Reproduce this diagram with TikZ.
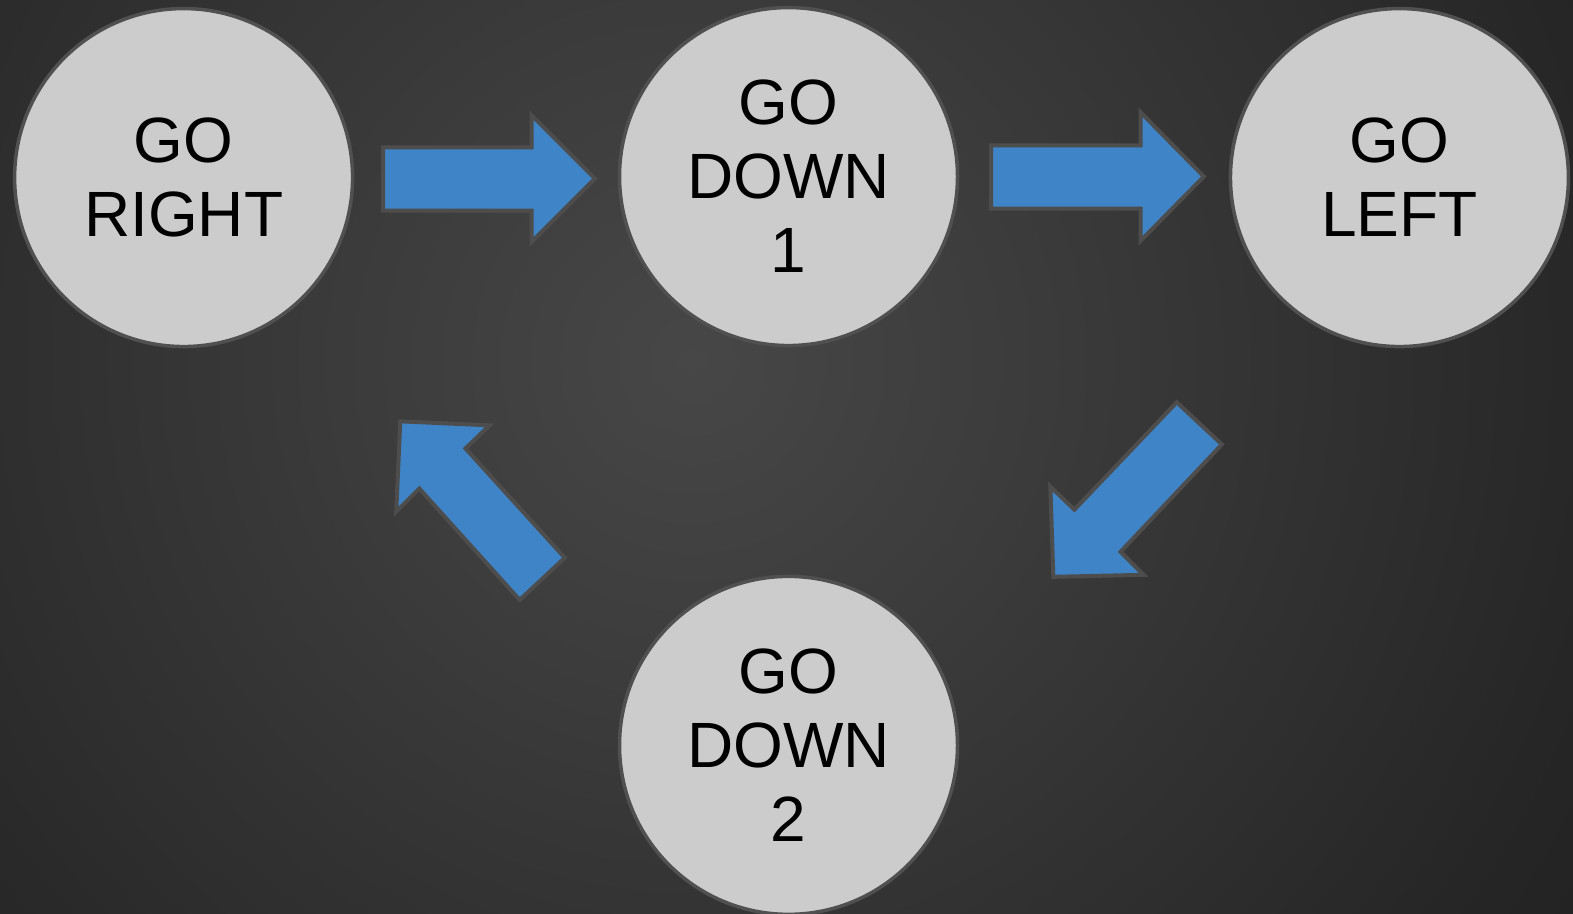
\documentclass[tikz,border=0pt]{standalone}
\usepackage{fontspec}
\setmainfont{Liberation Sans}
\definecolor{bg0}{HTML}{474747}
\definecolor{bg1}{HTML}{3B3B3B}
\definecolor{bg2}{HTML}{262626}
\definecolor{bg3}{HTML}{1E1E1E}
\definecolor{bg4}{HTML}{131313}
\definecolor{circfill}{HTML}{CCCCCC}
\definecolor{circline}{HTML}{505050}
\definecolor{arrowblue}{HTML}{3E84C6}
\definecolor{arrowline}{HTML}{4D4D4D}
\pgfdeclareradialshading{bgshade}{\pgfpoint{0bp}{0bp}}{color(0bp)=(bg0); color(8bp)=(bg1); color(21bp)=(bg2); color(28bp)=(bg3); color(42bp)=(bg4); color(50bp)=(bg4)}
\begin{document}
\begin{tikzpicture}[x=1.0032pt,y=-1.0032pt,
  state/.style={circle, draw=circline, line width=3.5pt, fill=circfill, minimum size=338pt, inner sep=0pt, align=center, font=\fontsize{64}{74}\selectfont, text=black},
  blockarrow/.style={draw=arrowline, line width=4pt, fill=arrowblue, line join=miter}]
\useasboundingbox (0,0) rectangle (1568,911);
\begin{scope}
\clip (0,0) rectangle (1568,911);
\shade[shading=bgshade] (690,360) circle[radius=1100];
\end{scope}
\node[state] (right) at (183,177) {GO\\RIGHT};
\node[state] (down1) at (786,176) {GO\\DOWN\\1};
\node[state] (left) at (1395,177) {GO\\LEFT};
\node[state] (down2) at (786,743) {GO\\DOWN\\2};
% right -> down1
\draw[blockarrow] (382,147) -- (530,147) -- (530,115) -- (593,178) -- (530,241) -- (530,210) -- (382,210) -- cycle;
% down1 -> left
\draw[blockarrow] (988,145) -- (1137,145) -- (1137,112) -- (1200,176) -- (1137,240) -- (1137,208) -- (988,208) -- cycle;
% left -> down2
\draw[blockarrow] (1173,401) -- (1218,443) -- (1117,550) -- (1140,573) -- (1050,575) -- (1047,485) -- (1071,508) -- cycle;
% down2 -> right
\draw[blockarrow] (563,556) -- (518,598) -- (418,487) -- (395,510) -- (399,420) -- (488,424) -- (464,447) -- cycle;
\end{tikzpicture}
\end{document}
